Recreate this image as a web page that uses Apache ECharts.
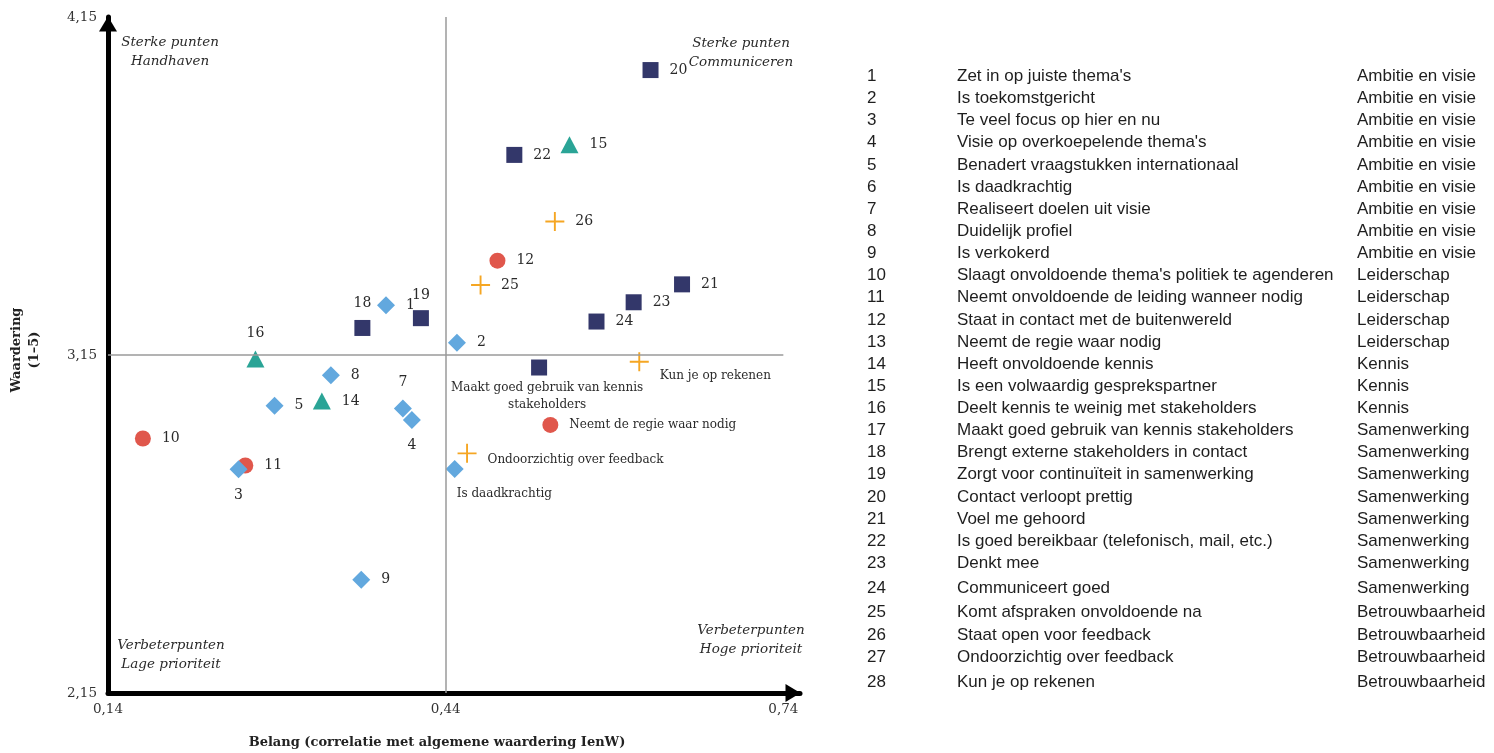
<!DOCTYPE html>
<html>
<head>
<meta charset="utf-8">
<title>Belang en waardering</title>
<script src="https://cdn.jsdelivr.net/npm/echarts@6/dist/echarts.min.js"></script>
<style>
  html, body { margin: 0; padding: 0; background: #fff; }
  #chart { width: 1494px; height: 753px; }
</style>
</head>
<body>
<div id="chart"></div>
<script>
// data
const nummers = [1, 2, 3, 4, 5, 6, 7, 8, 9, 10, 11, 12, 13, 14, 15, 16, 17, 18, 19, 20, 21, 22, 23, 24, 25, 26, 27, 28];
const belang = [0.387, 0.450, 0.256, 0.410, 0.288, 0.448, 0.402, 0.338, 0.365, 0.171, 0.262, 0.486, 0.533, 0.330,
  0.550, 0.271, 0.523, 0.366, 0.418, 0.622, 0.650, 0.501, 0.607, 0.574, 0.471, 0.537, 0.459, 0.612];
const waardering = [3.297, 3.186, 2.812, 2.958, 3.000, 2.813, 2.992, 3.090, 2.485, 2.903, 2.823, 3.429, 2.943, 3.014,
  3.772, 3.138, 3.113, 3.230, 3.259, 3.993, 3.359, 3.742, 3.306, 3.249, 3.357, 3.545, 2.859, 3.130];
const omschrijvingen = [
  "Zet in op juiste thema's", 'Is toekomstgericht', 'Te veel focus op hier en nu', "Visie op overkoepelende thema's",
  'Benadert vraagstukken internationaal', 'Is daadkrachtig', 'Realiseert doelen uit visie', 'Duidelijk profiel',
  'Is verkokerd', "Slaagt onvoldoende thema's politiek te agenderen", 'Neemt onvoldoende de leiding wanneer nodig',
  'Staat in contact met de buitenwereld', 'Neemt de regie waar nodig', 'Heeft onvoldoende kennis',
  'Is een volwaardig gesprekspartner', 'Deelt kennis te weinig met stakeholders', 'Maakt goed gebruik van kennis stakeholders',
  'Brengt externe stakeholders in contact', 'Zorgt voor continuïteit in samenwerking', 'Contact verloopt prettig',
  'Voel me gehoord', 'Is goed bereikbaar (telefonisch, mail, etc.)', 'Denkt mee', 'Communiceert goed',
  'Komt afspraken onvoldoende na', 'Staat open voor feedback', 'Ondoorzichtig over feedback', 'Kun je op rekenen'
];
const categorieen = [
  'Ambitie en visie', 'Ambitie en visie', 'Ambitie en visie', 'Ambitie en visie', 'Ambitie en visie', 'Ambitie en visie',
  'Ambitie en visie', 'Ambitie en visie', 'Ambitie en visie', 'Leiderschap', 'Leiderschap', 'Leiderschap', 'Leiderschap',
  'Kennis', 'Kennis', 'Kennis', 'Samenwerking', 'Samenwerking', 'Samenwerking', 'Samenwerking', 'Samenwerking',
  'Samenwerking', 'Samenwerking', 'Samenwerking', 'Betrouwbaarheid', 'Betrouwbaarheid', 'Betrouwbaarheid', 'Betrouwbaarheid'
];
const groepen = ['Leiderschap', 'Kennis', 'Ambitie en visie', 'Samenwerking', 'Betrouwbaarheid'];
const xTicks = [0.14, 0.44, 0.74];
const yTicks = [2.15, 3.15, 4.15];
const middenX = 0.44;
const middenY = 3.15;

// punten met tekst in plaats van nummer
const tekstLabels = {
  6: 'Is daadkrachtig',
  13: 'Neemt de regie waar nodig',
  17: 'Maakt goed gebruik van kennis\nstakeholders',
  27: 'Ondoorzichtig over feedback',
  28: 'Kun je op rekenen'
};

const serif = "'DejaVu Serif', 'Liberation Serif', serif";
const plus = 'path://M9,0H11V9H20V11H11V20H9V11H0V9H9Z';

const groepStijl = {
  'Ambitie en visie': { symbol: 'diamond', size: 18, color: '#62A8DE' },
  'Leiderschap': { symbol: 'circle', size: 16, color: '#E0574C' },
  'Kennis': { symbol: 'triangle', size: [18, 17], color: '#2AA496' },
  'Samenwerking': { symbol: 'rect', size: 16, color: '#33376A' },
  'Betrouwbaarheid': { symbol: plus, size: 19, color: '#F5A623' }
};

// afwijkende labelplekken
const labelPlek = {
  3: { position: 'bottom', distance: 10 },
  4: { position: 'bottom', distance: 9 },
  6: { position: 'bottom', distance: 10, align: 'left', offset: [2, 0], fontSize: 12 },
  7: { position: 'top', distance: 10 },
  13: { fontSize: 12 },
  16: { position: 'top', distance: 10 },
  17: { position: 'bottom', distance: 4, offset: [8, 0], lineHeight: 17, fontSize: 12 },
  18: { position: 'top', distance: 10 },
  19: { position: 'top', distance: 8 },
  27: { offset: [0, 7], fontSize: 12 },
  28: { offset: [0, 14], fontSize: 12 }
};

const rijY = [76, 98, 120, 142, 165, 187, 209, 231, 253, 275, 297, 320, 342, 364, 386, 408, 430, 452, 474, 497,
  519, 541, 563, 588, 612, 635, 657, 682];

function komma(v) {
  return v.toFixed(2).replace('.', ',');
}

const series = groepen.map(function (g) {
  const stijl = groepStijl[g];
  return {
    type: 'scatter',
    name: g,
    symbol: stijl.symbol,
    symbolSize: stijl.size,
    itemStyle: { color: stijl.color, opacity: 1 },
    label: {
      show: true,
      position: 'right',
      distance: 11,
      color: '#2a2a2a',
      fontFamily: serif,
      fontSize: 14,
      formatter: function (p) { return p.name; }
    },
    emphasis: { disabled: true },
    data: nummers.filter(function (n, i) { return categorieen[i] === g; }).map(function (n) {
      const item = { name: tekstLabels[n] || String(n), value: [belang[n - 1], waardering[n - 1]] };
      if (labelPlek[n]) item.label = labelPlek[n];
      return item;
    })
  };
});

series[0].markLine = {
  silent: true,
  symbol: ['none', 'none'],
  label: { show: false },
  lineStyle: { color: '#9a9a9a', width: 1.5, type: 'solid' },
  data: [
    [{ coord: [middenX, yTicks[0]] }, { coord: [middenX, yTicks[2]] }],
    [{ coord: [xTicks[0], middenY] }, { coord: [xTicks[2], middenY] }]
  ]
};

const tabel = [];
nummers.forEach(function (n, i) {
  const f = "17px 'Liberation Sans', Arial, sans-serif";
  tabel.push({ type: 'text', x: 867, y: rijY[i], style: { text: String(n), font: f, fill: '#1e1e1e', verticalAlign: 'middle' } });
  tabel.push({ type: 'text', x: 957, y: rijY[i], style: { text: omschrijvingen[i], font: f, fill: '#1e1e1e', verticalAlign: 'middle' } });
  tabel.push({ type: 'text', x: 1357, y: rijY[i], style: { text: categorieen[i], font: f, fill: '#1e1e1e', verticalAlign: 'middle' } });
});

function kwadrant(tekst, x, y) {
  return {
    type: 'text', x: x, y: y,
    style: { text: tekst, font: 'italic 13.5px ' + serif, fill: '#2a2a2a', align: 'center', verticalAlign: 'middle', lineHeight: 19 }
  };
}

const option = {
  animation: false,
  grid: { left: 108, right: 694, top: 17, bottom: 60 },
  xAxis: {
    type: 'value',
    min: 0.14,
    max: 0.7548,
    splitLine: { show: false },
    axisTick: { show: false },
    axisLine: {
      show: true, onZero: false,
      symbol: ['none', 'triangle'], symbolSize: [18, 15], symbolOffset: [0, -7],
      lineStyle: { color: '#000', width: 5 }
    },
    axisLabel: { customValues: xTicks, formatter: komma, margin: 9, color: '#333', fontFamily: serif, fontSize: 13.5 }
  },
  yAxis: {
    type: 'value',
    min: 2.15,
    max: 4.15,
    splitLine: { show: false },
    axisTick: { show: false },
    axisLine: {
      show: true, onZero: false,
      symbol: ['none', 'triangle'], symbolSize: [18, 15], symbolOffset: [0, -7],
      lineStyle: { color: '#000', width: 5 }
    },
    axisLabel: { customValues: yTicks, formatter: komma, margin: 11, color: '#333', fontFamily: serif, fontSize: 13.5 }
  },
  graphic: [
    kwadrant('Sterke punten\nHandhaven', 170, 52),
    kwadrant('Sterke punten\nCommuniceren', 741, 53),
    kwadrant('Verbeterpunten\nLage prioriteit', 171, 655),
    kwadrant('Verbeterpunten\nHoge prioriteit', 751, 640),
    {
      type: 'text', x: 437, y: 743,
      style: { text: 'Belang (correlatie met algemene waardering IenW)', font: 'bold 13px ' + serif, fill: '#222', align: 'center', verticalAlign: 'middle' }
    },
    {
      type: 'text', x: 26, y: 350, rotation: Math.PI / 2,
      style: { text: 'Waardering\n(1–5)', font: 'bold 13px ' + serif, fill: '#222', align: 'center', verticalAlign: 'middle', lineHeight: 18 }
    }
  ].concat(tabel),
  series: series
};

const chart = echarts.init(document.getElementById('chart'));
chart.setOption(option);
window.onresize = function () { chart.resize(); };
</script>
</body>
</html>
